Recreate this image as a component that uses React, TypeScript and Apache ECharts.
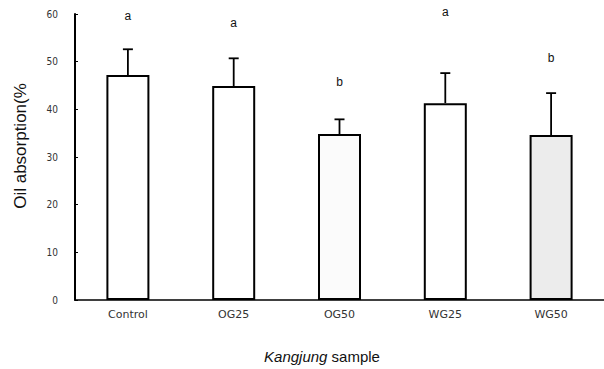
import React, { useEffect, useRef } from "react";
import * as echarts from "echarts";

const categories = ["Control", "OG25", "OG50", "WG25", "WG50"];
const means = [47.2, 44.9, 34.8, 41.3, 34.6];
const errorTops = [52.6, 50.7, 37.9, 47.6, 43.4];
const letters = ["a", "a", "b", "a", "b"];
const letterValues = [59.5, 58.1, 45.7, 60.4, 50.7];
const yTicks = [0, 10, 20, 30, 40, 50, 60];

export default function App() {
  const ref = useRef<HTMLDivElement>(null);
  useEffect(() => {
    if (!ref.current) return;
    const chart = echarts.init(ref.current, undefined, { renderer: "svg" });
    const errData = categories.map((_, i) => [i, means[i], errorTops[i]]);
    const letterData = categories.map((_, i) => [i, letterValues[i], letters[i]]);
    chart.setOption({
      animation: false,
      backgroundColor: "#ffffff",
      grid: { left: 75, right: 0, top: 14, bottom: 69 },
      xAxis: {
        type: "category",
        data: categories,
        axisLine: { lineStyle: { color: "#000", width: 1.5 } },
        axisTick: { show: false },
        axisLabel: {
          color: "#333",
          fontFamily: "DejaVu Sans",
          fontSize: 11,
          margin: 9,
        },
      },
      yAxis: {
        type: "value",
        min: 0,
        max: yTicks[yTicks.length - 1],
        interval: 10,
        splitLine: { show: false },
        axisLine: { show: true, lineStyle: { color: "#000", width: 2 } },
        axisTick: { show: true, inside: true, length: 3, lineStyle: { color: "#000" } },
        axisLabel: {
          color: "#333",
          fontFamily: "DejaVu Sans Condensed",
          fontSize: 10,
          margin: 17,
        },
      },
      graphic: [
        {
          type: "text",
          x: 20,
          y: 146,
          rotation: Math.PI / 2,
          style: {
            text: "Oil absorption(%",
            fontFamily: "Liberation Sans",
            fontSize: 17,
            fill: "#111",
            align: "center",
            verticalAlign: "middle",
          },
        },
        {
          type: "text",
          x: 322,
          y: 349,
          style: {
            text: "{i|Kangjung} sample",
            align: "center",
            verticalAlign: "top",
            fontFamily: "Liberation Sans",
            fontSize: 15,
            fill: "#111",
            rich: {
              i: { fontStyle: "italic", fontFamily: "Liberation Sans", fontSize: 15, fill: "#111" },
            },
          },
        },
      ],
      series: [
        {
          type: "bar",
          data: means.map((v, i) => ({
            value: v,
            itemStyle: {
              color: i === 4 ? "#ececec" : i === 2 ? "#fbfbfb" : "#ffffff",
            },
          })),
          barWidth: 43,
          itemStyle: { borderColor: "#000", borderWidth: 2 },
          z: 2,
        },
        {
          type: "custom",
          data: errData,
          z: 3,
          renderItem: (params: any, api: any) => {
            const x = api.value(0);
            const base = api.coord([x, api.value(1)]);
            const top = api.coord([x, api.value(2)]);
            const hw = 5;
            return {
              type: "group",
              children: [
                {
                  type: "line",
                  shape: { x1: base[0], y1: base[1], x2: top[0], y2: top[1] },
                  style: { stroke: "#000", lineWidth: 1.8 },
                },
                {
                  type: "line",
                  shape: { x1: top[0] - hw, y1: top[1], x2: top[0] + hw, y2: top[1] },
                  style: { stroke: "#000", lineWidth: 1.8 },
                },
              ],
            };
          },
        },
        {
          type: "custom",
          data: letterData,
          z: 4,
          clip: false,
          renderItem: (params: any, api: any) => {
            const i = params.dataIndex;
            const p = api.coord([api.value(0), api.value(1)]);
            return {
              type: "text",
              x: p[0],
              y: p[1],
              style: {
                text: letters[i],
                fontFamily: "Liberation Sans",
                fontSize: 12,
                fill: "#111",
                align: "center",
                verticalAlign: "middle",
              },
            };
          },
        },
      ],
    });
    return () => chart.dispose();
  }, []);
  return (
    <div
      ref={ref}
      style={{ position: "fixed", left: 0, top: 0, width: 604, height: 369 }}
    />
  );
}
